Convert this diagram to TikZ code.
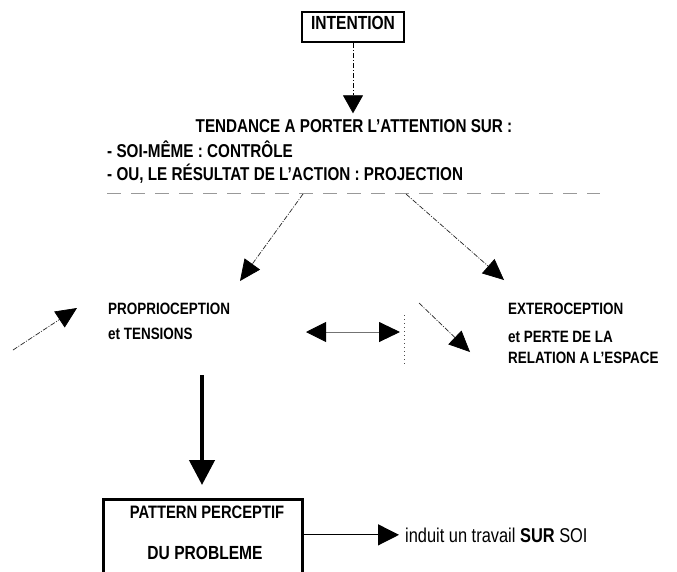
\documentclass[tikz,border=0pt]{standalone}
\usepackage{fontspec}
\setmainfont{Liberation Sans}[FakeStretch=0.82]
\usetikzlibrary{arrows.meta}
\begin{document}
\begin{tikzpicture}[x=1pt,y=-1pt,
  midtxt/.style={inner sep=0pt, font=\bfseries\fontsize{16.4}{19}\selectfont},
  bigtxt/.style={inner sep=0pt, font=\bfseries\fontsize{18.6}{21}\selectfont},
  dashdiag/.style={line width=0.7pt, black!85, dash pattern=on 5pt off 1.5pt on 1pt off 1.5pt},
  headA/.style={-{Triangle[length=21pt,width=19pt,color=black]}},
  sepline/.style={black!40, line width=0.8pt, dash pattern=on 14pt off 10pt}
]
\clip (0,0) rectangle (677,571);
\fill[white] (0,0) rectangle (677,571);

% top box
\node[draw, line width=2.5pt, minimum width=102pt, minimum height=30pt, inner sep=0pt,
      text depth=8pt, font=\bfseries\fontsize{19}{21}\selectfont] (intention) at (353,27) {INTENTION};

\node[bigtxt, anchor=base] (tendance) at (354,132.5) {TENDANCE A PORTER L'ATTENTION SUR :};
\node[bigtxt, anchor=base west] (soi) at (107,157.5) {- SOI-MÊME : CONTRÔLE};
\node[bigtxt, anchor=base west] (ou) at (107,180.5) {- OU, LE RÉSULTAT DE L'ACTION : PROJECTION};

\draw[line width=0.7pt, dash pattern=on 5pt off 2pt on 1pt off 2pt,
      -{Triangle[length=18pt,width=20pt]}, shorten >=6pt]
  (intention.south) -- (intention.south |- tendance.north);

% separator (faint)
\coordinate (sepA) at (107,193);
\coordinate (sepB) at (600,193);
\draw[sepline] (sepA) -- (sepB);

% diagonals to the two branches
\coordinate (sepL) at (303,194);
\coordinate (sepR) at (406,194);
\coordinate (tipL) at (240,281);
\coordinate (tipR) at (504,280);
\draw[dashdiag, headA] (sepL) -- (tipL);
\draw[dashdiag, headA] (sepR) -- (tipR);

% middle texts
\node[midtxt, anchor=base west] (prop1) at (108,314) {PROPRIOCEPTION};
\node[midtxt, anchor=base west] (prop2) at (108,339) {et TENSIONS};
\node[midtxt, anchor=base west] (ext1) at (508,314) {EXTEROCEPTION};
\node[midtxt, anchor=base west] (ext2) at (508,342) {et PERTE DE LA};
\node[midtxt, anchor=base west] (ext3) at (508,363) {RELATION A L'ESPACE};

% small incoming arrow on the left
\coordinate (lA) at (13,350);
\coordinate (lB) at (77,308);
\draw[dashdiag, headA] (lA) -- (lB);

% double arrow
\coordinate (dL) at (306,332);
\coordinate (dR) at (400,332);
\draw[black!55, line width=0.9pt,
      {Triangle[length=20pt,width=20pt,color=black]}-{Triangle[length=21pt,width=20pt,color=black]}]
  (dL) -- (dR);

% faint dotted vertical
\coordinate (vT) at (404,315);
\coordinate (vB) at (404,364);
\draw[black!70, line width=0.8pt, dash pattern=on 1pt off 3pt] (vT) -- (vB);

% right dashed diagonal
\coordinate (mA) at (419,303);
\coordinate (mB) at (470,352);
\draw[dashdiag, headA] (mA) -- (mB);

% bottom box
\node[draw, line width=3pt, minimum width=199pt, minimum height=110pt, anchor=north, inner sep=0pt]
  (pattern) at (202.5,498) {};
\node[inner sep=0pt, anchor=base, font=\bfseries\fontsize{18}{21}\selectfont] (pat1) at (207,518.5) {PATTERN PERCEPTIF};
\node[inner sep=0pt, anchor=base, font=\bfseries\fontsize{19}{21}\selectfont] (pat2) at (205,559) {DU PROBLEME};

% thick arrow
\coordinate (thickTop) at (202,375);
\draw[line width=4.5pt, -{Triangle[length=25pt,width=25pt]}, shorten >=13pt]
  (thickTop) -- (thickTop |- pattern.north);

% induit
\node[inner sep=0pt, anchor=base west, font=\fontsize{20}{22}\selectfont] (induit) at (405,542)
  {induit un travail \textbf{SUR} SOI};
\draw[line width=1.2pt, -{Triangle[length=21pt,width=21pt]}, shorten >=6pt]
  (pattern.east |- induit.west) -- (induit.west);
\end{tikzpicture}
\end{document}
